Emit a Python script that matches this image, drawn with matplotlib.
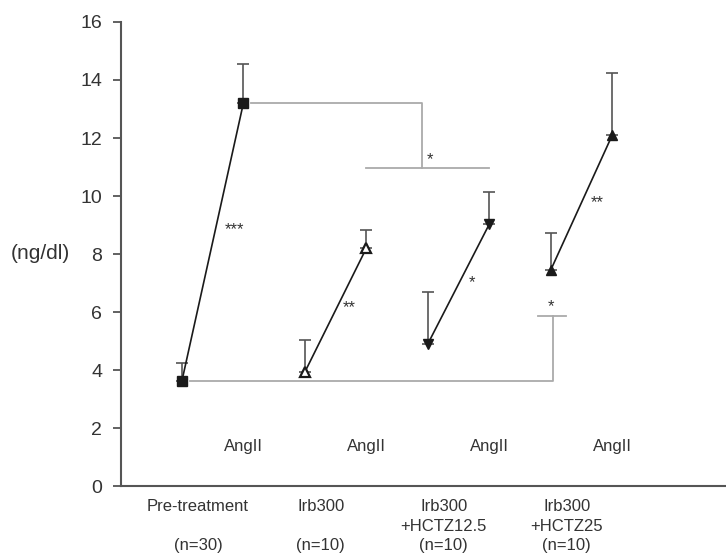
import matplotlib.pyplot as plt
import numpy as np

plt.rcParams['font.family'] = ['Liberation Sans', 'DejaVu Sans']

# group order: Pre-treatment, Irb300, Irb300+HCTZ12.5, Irb300+HCTZ25
line1 = ["Pre-treatment", "Irb300", "Irb300", "Irb300"]
line2 = ["", "", "+HCTZ12.5", "+HCTZ25"]
n_labels = ["(n=30)", "(n=10)", "(n=10)", "(n=10)"]
base_mean = [3.62, 3.93, 4.90, 7.45]
base_sd = [0.62, 1.10, 1.79, 1.27]
ang_mean = [13.20, 8.20, 9.03, 12.10]
ang_sd = [1.35, 0.63, 1.11, 2.14]
markers = ["s", "^", "v", "^"]
filled = [True, False, True, True]
stars = ["***", "**", "*", "**"]
star_x = [0.85, 2.72, 4.72, 6.76]
star_y = [8.83, 6.14, 7.0, 9.76]

dark = "#1a1a1a"
gray = "#aaaaaa"
txt = "#333333"

fig = plt.figure(figsize=(7.26, 5.54), dpi=100)
ax = fig.add_axes([0.1667, 0.1227, 0.8333, 0.8376])

for i in range(4):
    xb, xa = 2 * i, 2 * i + 1
    ax.plot([xb, xa], [base_mean[i], ang_mean[i]], color=dark, lw=1.2, zorder=2)
    for x, m, s in [(xb, base_mean[i], base_sd[i]), (xa, ang_mean[i], ang_sd[i])]:
        ax.errorbar(x, m, yerr=[[0], [s]], fmt="none", ecolor="#555555",
                    elinewidth=1.2, capsize=4.3, capthick=1.2, zorder=1)
        ax.plot(x, m, marker=markers[i], ms=7 if markers[i] == "s" else 7.5,
                mfc=dark if filled[i] else "white", mec=dark, mew=1.6 if not filled[i] else 1.0,
                ls="none", zorder=3)
    ax.text(star_x[i], star_y[i], stars[i], ha="center", va="center", fontsize=12, color=txt)
    ax.text(xa, 1.38, "AngII", ha="center", va="center", fontsize=12, color=txt)
    gx = xb + 0.26
    ax.text(gx, -0.72, line1[i], ha="center", va="center", fontsize=12, color=txt)
    ax.text(gx, -1.41, line2[i], ha="center", va="center", fontsize=12, color=txt)
    ax.text(gx, -2.05, n_labels[i], ha="center", va="center", fontsize=12, color=txt)

# significance brackets
ax.plot([1.13, 3.9, 3.9], [ang_mean[0], ang_mean[0], 10.97], color=gray, lw=1.3, zorder=0)
ax.plot([3.0, 5.0], [10.97, 10.97], color=gray, lw=1.3, zorder=0)
ax.text(4.03, 11.24, "*", ha="center", va="center", fontsize=12, color=txt)
ax.plot([0.13, 6.03, 6.03], [base_mean[0], base_mean[0], 5.86], color=gray, lw=1.3, zorder=0)
ax.plot([5.8, 6.25], [5.86, 5.86], color=gray, lw=1.3, zorder=0)
ax.text(6.0, 6.2, "*", ha="center", va="center", fontsize=12, color=txt)

ax.set_xlim(-0.99, 8.85)
ax.set_ylim(0, 16)
ax.set_yticks(np.arange(0, 17, 2))
ax.set_xticks([])
ax.tick_params(axis="y", labelsize=14, colors="#555555", labelcolor=txt,
               length=6, width=1.3, pad=7.5)
for s in ["top", "right"]:
    ax.spines[s].set_visible(False)
for s in ["left", "bottom"]:
    ax.spines[s].set_color("#555555")
    ax.spines[s].set_linewidth(1.5)
fig.text(0.056, 0.543, "(ng/dl)", ha="center", va="center", fontsize=15, color=txt)

fig.savefig("out.png", dpi=100)
